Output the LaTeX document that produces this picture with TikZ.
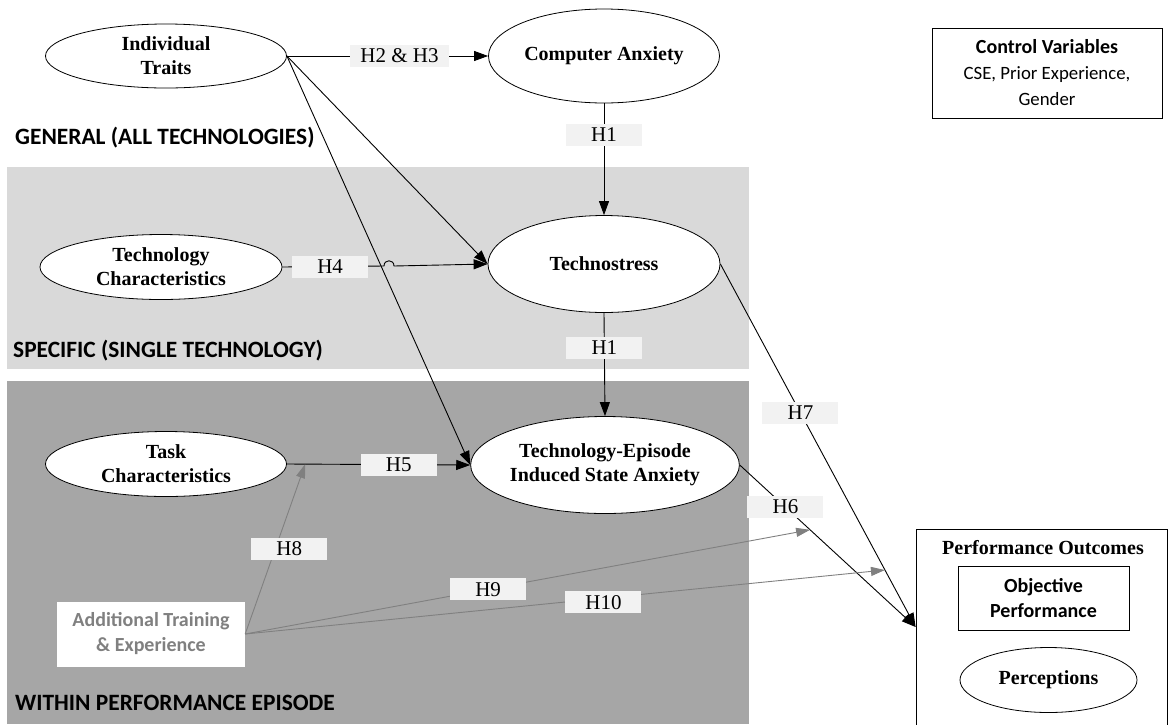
\documentclass[tikz,border=0pt]{standalone}
\usepackage{fontspec}
\setmainfont{Liberation Serif}
\newfontfamily\calfont{Carlito}
\usetikzlibrary{shapes.geometric,arrows.meta,calc}
\definecolor{panelLight}{HTML}{D9D9D9}
\definecolor{panelDark}{HTML}{A6A6A6}
\definecolor{lblfill}{HTML}{F2F2F2}
\definecolor{modgray}{HTML}{808080}

\begin{document}
\begin{tikzpicture}[x=1pt,y=-1pt,
  construct/.style={ellipse, draw=black, line width=0.8pt, fill=white, inner sep=0pt,
    align=center, font=\bfseries\fontsize{20}{24}\selectfont},
  lbl/.style={fill=lblfill, inner sep=0pt, minimum width=76pt, minimum height=22pt,
    text=black, font=\fontsize{21}{24}\selectfont},
  link/.style={draw=black, line width=0.9pt, -{Triangle[length=14pt,width=10pt]}},
  modlink/.style={draw=modgray, line width=0.9pt, -{Triangle[length=14pt,width=9pt]}},
  section/.style={anchor=base west, inner sep=0pt, font=\calfont\bfseries\fontsize{23.4}{27}\selectfont},
  sansbox/.style={align=center, font=\calfont\fontsize{20}{25}\selectfont}
]
\useasboundingbox (0,0) rectangle (1168,724);

% level panels
\fill[panelLight] (7,167) rectangle (749,369);
\fill[panelDark] (7,381) rectangle (749,724);

\node[section] (secGen) at (15,144) {GENERAL (ALL TECHNOLOGIES)};
\node[section] (secSpec) at (13,357) {SPECIFIC (SINGLE TECHNOLOGY)};
\node[section] (secEp) at (15,710) {WITHIN PERFORMANCE EPISODE};

% constructs
\node[construct, minimum width=241pt, minimum height=64pt] (it) at (166,56) {Individual\\Traits};
\node[construct, minimum width=231pt, minimum height=94pt] (ca) at (604,56) {Computer Anxiety};
\node[construct, minimum width=242pt, minimum height=65pt] (tc) at (161,267) {Technology\\Characteristics};
\node[construct, minimum width=232pt, minimum height=97pt] (ts) at (604,264) {Technostress};
\node[construct, minimum width=241pt, minimum height=65pt] (task) at (166,464) {Task\\Characteristics};
\node[construct, minimum width=241pt, minimum height=97pt] (ep) at (605,465) {Technology-Episode\\Induced State Anxiety};

% moderator
\node[sansbox, fill=white, minimum width=188pt, minimum height=65pt, text=modgray,
  font=\calfont\bfseries\fontsize{20}{25}\selectfont] (train) at (151,634) {Additional Training\\\& Experience};

% control variables
\node[sansbox, draw, line width=0.8pt, minimum width=230pt, minimum height=90pt,
  font=\calfont\fontsize{18.8}{26}\selectfont] (ctrl) at (1047,73)
  {{\fontsize{20}{26}\selectfont\bfseries Control Variables}\\CSE, Prior Experience,\\Gender};

% performance outcomes
\node[draw, line width=0.8pt, minimum width=251pt, minimum height=206pt, inner sep=0pt] (perf) at (1041.5,632) {};
\node[font=\bfseries\fontsize{20}{24}\selectfont, inner sep=0pt] (perfTitle) at (1043,548) {Performance Outcomes};
\node[sansbox, draw, line width=0.8pt, minimum width=171pt, minimum height=64pt,
  font=\calfont\bfseries\fontsize{20}{25}\selectfont] (obj) at (1043.5,598) {Objective\\Performance};
\node[construct, minimum width=177pt, minimum height=65pt] (perc) at (1048.5,680) {Perceptions};
\coordinate (perfin) at ([yshift=5pt]perf.west);

% hypothesised paths
\draw[link] (it.east) -- node[lbl,pos=.56,minimum width=99pt]{H2 \& H3} (ca.west);
\draw[link] (ca.south) -- node[lbl,pos=.28]{H1} (ts.north);
\draw[link] (it.east) -- (ts.west);
\draw[link] (it.east) -- (ep.west);
\coordinate (hopL) at (384,266);
\coordinate (hopR) at (394,266);
\draw[link] (tc.east) -- node[lbl,pos=.47]{H4} (hopL) .. controls +(0,-7) and +(0,-7) .. (hopR) -- (ts.west);
\draw[link] (ts.south) -- node[lbl,pos=.34]{H1} (ep.north);
\draw[link] (task.east) -- node[lbl,pos=.61]{H5} coordinate[pos=.1] (h5pt) (ep.west);
\draw[link] (ts.east) -- node[lbl,pos=.41]{H7} coordinate[pos=.843] (h7pt) (perfin);
\draw[link] (ep.east) -- node[lbl,pos=.26]{H6} coordinate[pos=.4] (h6pt) (perfin);

% moderating paths
\draw[modlink] (train.east) -- node[lbl,pos=.5,xshift=14pt]{H8} (h5pt);
\draw[modlink] (train.east) -- node[lbl,pos=.43]{H9} (h6pt);
\draw[modlink] (train.east) -- node[lbl,pos=.56,yshift=-4pt]{H10} (h7pt);
\end{tikzpicture}
\end{document}
